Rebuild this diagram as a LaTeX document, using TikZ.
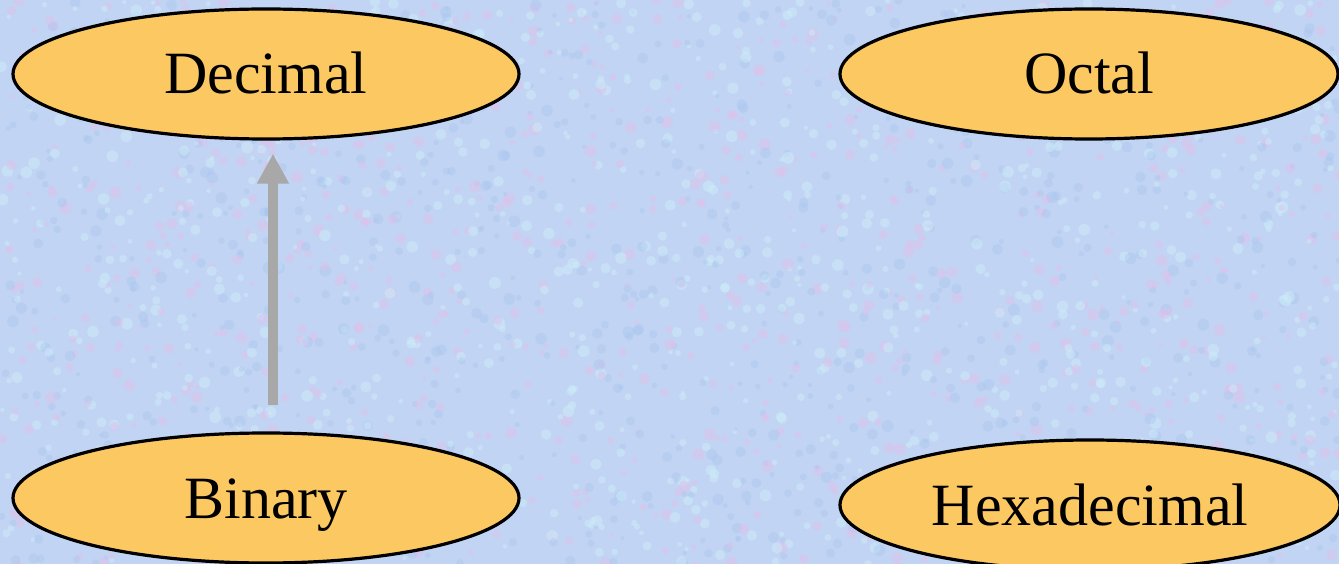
\documentclass[tikz,border=0pt]{standalone}
\usepackage{fontspec}
\usepackage{tikz}
\usetikzlibrary{shapes.geometric,arrows.meta}
\setmainfont{Liberation Serif}

\definecolor{paper}{RGB}{194,212,243}
\definecolor{speckpink}{RGB}{222,194,236}
\definecolor{speckblue}{RGB}{164,196,240}
\definecolor{speckcyan}{RGB}{204,236,248}
\definecolor{numfill}{RGB}{252,200,98}
\definecolor{arrowgray}{RGB}{168,168,168}

\begin{document}
\begin{tikzpicture}[
x=1pt, y=-1pt,
% Style for the number system ellipses
system node/.style={
ellipse,
draw=black,
fill=numfill,
line width=3.2pt,
inner sep=0pt,
minimum width=506pt,
minimum height=130pt,
text height=40pt,
text depth=0pt,
font=\fontsize{60}{72}\selectfont
},
% Style for the conversion arrow
conv arrow/.style={
arrowgray,
line width=10pt,
-{Triangle[width=30pt,length=30pt]}
}
]

% Background with a light speckled texture
\useasboundingbox (0,0) rectangle (1339,564);
\fill[paper] (0,0) rectangle (1339,564);
\pgfmathsetseed{17}
\foreach \k in {1,...,900} {
\fill[speckpink, opacity=.5] (1339*rnd, 564*rnd) circle (2+4*rnd);
\fill[speckblue, opacity=.35] (1339*rnd, 564*rnd) circle (2+4*rnd);
\fill[speckcyan, opacity=.5] (1339*rnd, 564*rnd) circle (2+4*rnd);
}

% The four number systems
\node[system node] (dec) at (266,74) {Decimal};
\node[system node, minimum width=498pt] (oct) at (1089,74) {Octal};
\node[system node] (bin) at (266,498) {Binary};
\node[system node, minimum width=500pt] (hex) at (1090,505) {Hexadecimal};

% Binary -> Decimal
\draw[conv arrow, shorten <=26pt, shorten >=13pt] ([xshift=7pt]bin.north) -- ([xshift=7pt]dec.south);

\end{tikzpicture}
\end{document}
